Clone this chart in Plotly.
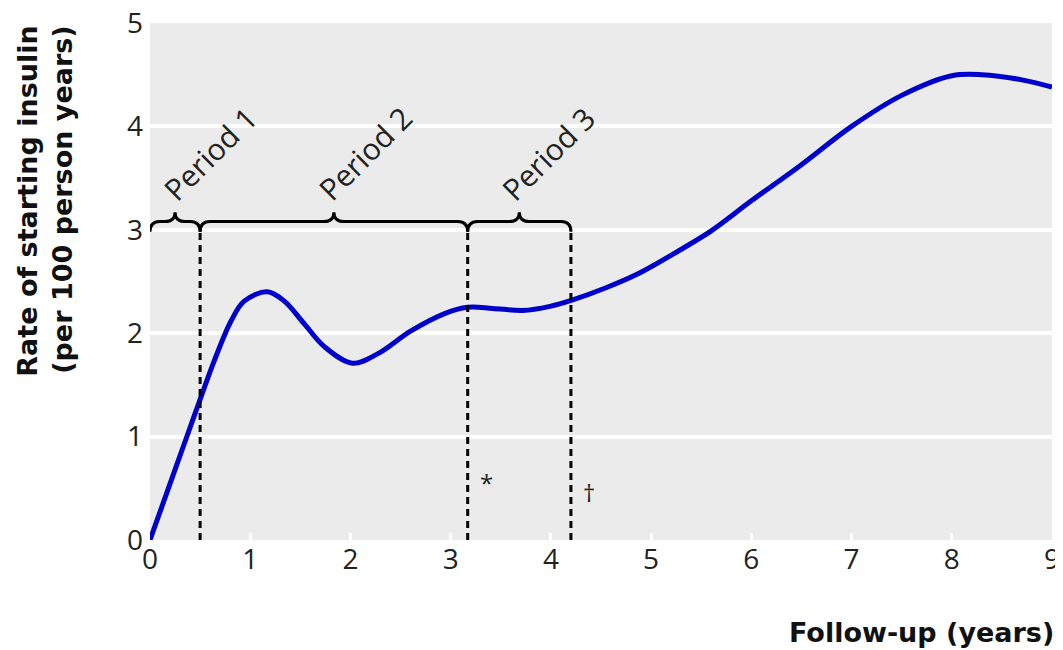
import plotly.graph_objects as go

# Curve data (follow-up years, rate per 100 person years)
follow_up = [0.0, 0.25, 0.5, 0.64, 0.81, 0.94, 1.17, 1.34, 1.54, 1.74, 2.02, 2.27, 2.6, 2.94,
             3.17, 3.42, 3.72, 3.99, 4.21, 4.55, 4.88, 5.28, 5.6, 6.0, 6.5, 7.0, 7.5, 8.0, 8.3, 8.7, 9.0]
rate = [0.0, 0.68, 1.36, 1.73, 2.12, 2.31, 2.40, 2.31, 2.09, 1.87, 1.71, 1.80, 2.02, 2.19,
        2.25, 2.24, 2.22, 2.26, 2.32, 2.44, 2.58, 2.80, 2.99, 3.28, 3.63, 4.0, 4.3, 4.49, 4.5, 4.45, 4.38]

# Period boundaries
period_names = ["Period 1", "Period 2", "Period 3"]
period_start = [0.0, 0.5, 3.17]
period_end = [0.5, 3.17, 4.2]
cut_points = [0.5, 3.17, 4.2]
cut_marks = ["*", "†"]
cut_mark_x = [3.36, 4.38]
cut_mark_y = [0.56, 0.46]

x_ticks = list(range(0, 10))
y_ticks = list(range(0, 6))

BRACE_Y = 3.08
BRACE_END_Y = 2.98
BRACE_PEAK_Y = 3.17
DX = 0.1

fig = go.Figure()

fig.add_trace(go.Scatter(
    x=follow_up, y=rate, mode="lines",
    line=dict(color="#0000cc", width=5, shape="spline", smoothing=1.0),
    hoverinfo="skip", showlegend=False, cliponaxis=True))

shapes = []
# dashed vertical lines
for c in cut_points:
    shapes.append(dict(type="line", xref="x", yref="y", x0=c, x1=c, y0=0, y1=3.0,
                       line=dict(color="black", width=3, dash="7px,5px")))

# braces
for s, e in zip(period_start, period_end):
    m = (s + e) / 2
    d = min(DX, (e - s) / 4)
    path = (f"M {s},{BRACE_END_Y} Q {s},{BRACE_Y} {s+d},{BRACE_Y} "
            f"L {m-d},{BRACE_Y} Q {m},{BRACE_Y} {m},{BRACE_PEAK_Y} "
            f"Q {m},{BRACE_Y} {m+d},{BRACE_Y} "
            f"L {e-d},{BRACE_Y} Q {e},{BRACE_Y} {e},{BRACE_END_Y}")
    shapes.append(dict(type="path", xref="x", yref="y", path=path,
                       line=dict(color="black", width=3)))

annotations = []
label_dx = [0.35, 0.31, 0.29]
for name, s, e, ldx in zip(period_names, period_start, period_end, label_dx):
    m = (s + e) / 2
    annotations.append(dict(x=m + ldx, y=3.74, xref="x", yref="y", text=name,
                            textangle=-45, showarrow=False,
                            font=dict(family="Open Sans", size=30, color="#222")))
for t, xm, ym in zip(cut_marks, cut_mark_x, cut_mark_y):
    annotations.append(dict(x=xm, y=ym, xref="x", yref="y", text=t, showarrow=False,
                            font=dict(family="Open Sans", size=24, color="#222")))

annotations.append(dict(x=-0.116, y=0.655, xref="paper", yref="paper",
                        text="Rate of starting insulin<br>(per 100 person years)",
                        textangle=-90, showarrow=False, align="right",
                        xanchor="center", yanchor="middle",
                        font=dict(family="DejaVu Sans", size=27, color="#111", weight="bold")))
annotations.append(dict(x=1.004, y=-0.178, xref="paper", yref="paper",
                        text="Follow-up (years)", showarrow=False,
                        xanchor="right", yanchor="middle",
                        font=dict(family="DejaVu Sans", size=27, color="#111", weight="bold")))

# page body has an 8px margin; size/margins compensate so the plot lands where the reference has it
fig.update_layout(
    width=1055, height=642,
    margin=dict(l=142, r=11, t=15, b=110),
    paper_bgcolor="white", plot_bgcolor="#ebebeb",
    shapes=shapes, annotations=annotations,
    xaxis=dict(range=[0, 9], tickvals=x_ticks, ticktext=[str(v) for v in x_ticks],
               showgrid=False, zeroline=False, showline=False, automargin=False,
               ticks="inside", ticklen=7, tickwidth=3, tickcolor="white",
               ticklabeloverflow="allow",
               tickfont=dict(family="Open Sans", size=28, color="#222")),
    yaxis=dict(range=[0, 5], tickvals=y_ticks, ticktext=[str(v) for v in y_ticks],
               showgrid=True, gridcolor="white", gridwidth=4, zeroline=False, showline=False,
               ticks="", ticklabelstandoff=6, automargin=False,
               ticklabeloverflow="allow",
               tickfont=dict(family="Open Sans", size=28, color="#222")),
)

fig.write_html("out.html")
